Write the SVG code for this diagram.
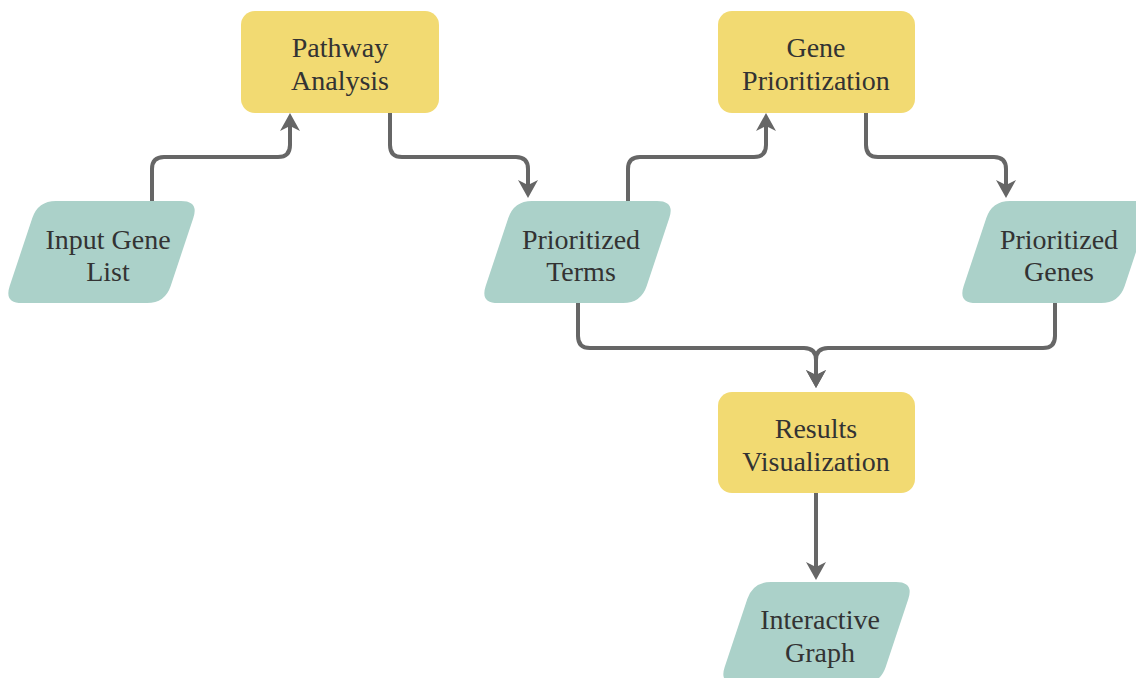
<svg xmlns="http://www.w3.org/2000/svg" width="1136" height="678" viewBox="0 0 1136 678">
<style>
.proc{fill:#F2DA72;}
.data{fill:#ABD1C9;}
.lbl{font-family:"Liberation Serif","Times New Roman",serif;font-size:28px;fill:#333;text-anchor:middle;}
.edge{fill:none;stroke:#666;stroke-width:4;marker-end:url(#arr);}
</style>
<defs>
<marker id="arr" viewBox="0 0 18 20" markerWidth="18" markerHeight="20" markerUnits="userSpaceOnUse" refX="8" refY="10" orient="auto">
<path d="M0,0 L18,10 L0,20 L5,10 Z" fill="#666"/>
</marker>
<path id="para" d="M52,0 L177,0 Q195,0 189.31,17.08 L166.69,84.92 Q161,102 143,102 L18,102 Q0,102 5.69,84.92 L28.31,17.08 Q34,0 52,0 Z"/>
</defs>
<g id="connectors">
<path class="edge" d="M152,201 V169 Q152,157 164,157 H278 Q290,157 290,145 V123"/>
<path class="edge" d="M390,113 V145 Q390,157 402,157 H516 Q528,157 528,169 V188"/>
<path class="edge" d="M628,201 V169 Q628,157 640,157 H754 Q766,157 766,145 V123"/>
<path class="edge" d="M866,113 V145 Q866,157 878,157 H994 Q1006,157 1006,169 V188"/>
<path class="edge" d="M578,303 V336 Q578,348 590,348 H804 Q816,348 816,360 V378"/>
<path class="edge" d="M1055,303 V336 Q1055,348 1043,348 H828 Q816,348 816,360 V378"/>
<path class="edge" d="M816,493 V570"/>
</g>
<g id="pathway-analysis">
<rect class="proc" x="241" y="11" width="198" height="102" rx="14"/>
<text class="lbl" x="340" y="57">Pathway</text>
<text class="lbl" x="340" y="90">Analysis</text>
</g>
<g id="gene-prioritization">
<rect class="proc" x="718" y="11" width="197" height="102" rx="14"/>
<text class="lbl" x="816" y="57">Gene</text>
<text class="lbl" x="816" y="90">Prioritization</text>
</g>
<g id="results-visualization">
<rect class="proc" x="718" y="392" width="197" height="101" rx="14"/>
<text class="lbl" x="816" y="438">Results</text>
<text class="lbl" x="816" y="471">Visualization</text>
</g>
<g id="input-gene-list">
<use href="#para" class="data" transform="translate(4,201)"/>
<text class="lbl" x="108" y="249">Input Gene</text>
<text class="lbl" x="108" y="281">List</text>
</g>
<g id="prioritized-terms">
<use href="#para" class="data" transform="translate(480,201)"/>
<text class="lbl" x="581" y="249">Prioritized</text>
<text class="lbl" x="581" y="281">Terms</text>
</g>
<g id="prioritized-genes">
<use href="#para" class="data" transform="translate(958,201)"/>
<text class="lbl" x="1059" y="249">Prioritized</text>
<text class="lbl" x="1059" y="281">Genes</text>
</g>
<g id="interactive-graph">
<use href="#para" class="data" transform="translate(719,582)"/>
<text class="lbl" x="820" y="629">Interactive</text>
<text class="lbl" x="820" y="662">Graph</text>
</g>
</svg>
